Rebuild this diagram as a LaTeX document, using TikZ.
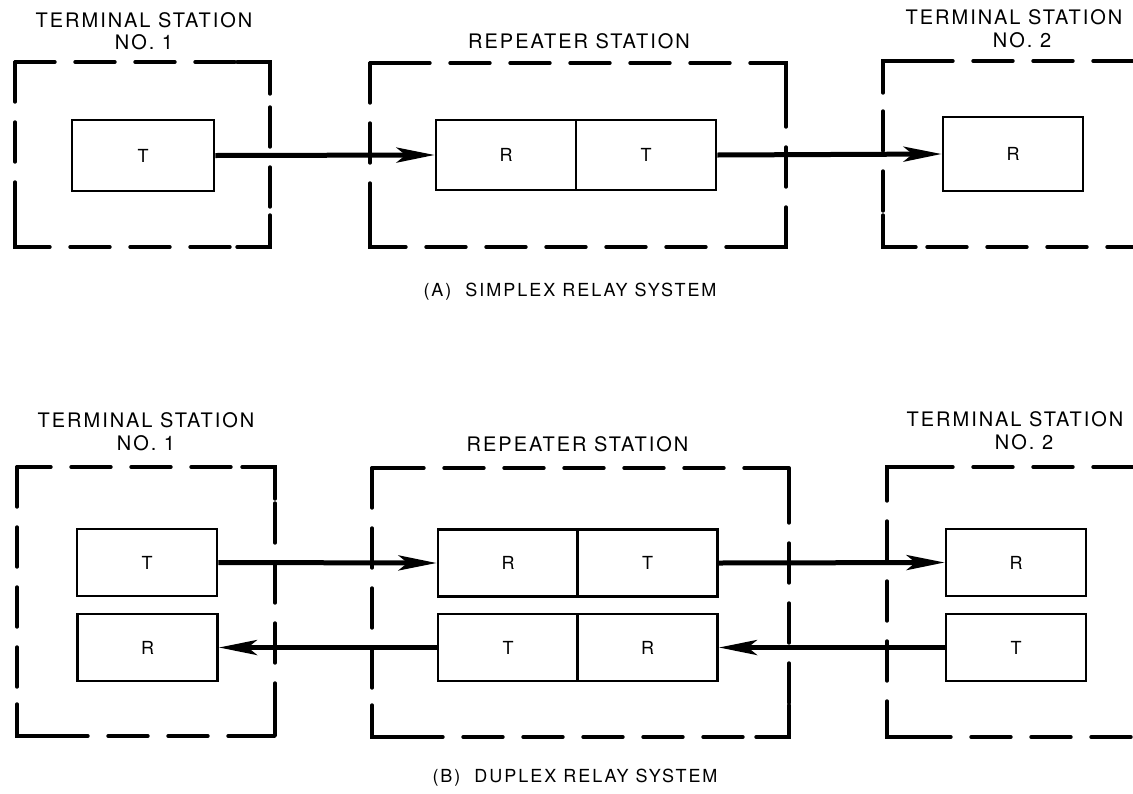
\documentclass[tikz,border=0pt]{standalone}
\usepackage{fontspec}
\setmainfont{TeX Gyre Heros}[LetterSpace=10]
\newfontfamily\capfont{TeX Gyre Heros}[LetterSpace=11]
\usetikzlibrary{arrows.meta}
\begin{document}
\begin{tikzpicture}[x=1pt,y=-1pt,
  stn/.style={line width=3.4pt, dash pattern=on 40pt off 20pt, line cap=round},
  crn/.style={line width=3.4pt, line cap=round, line join=round},
  blk/.style={draw, line width=2.8pt, minimum width=140pt, minimum height=70pt, inner sep=0pt, font=\fontsize{18}{18}\selectfont},
  blkb/.style={blk, minimum height=67pt},
  lbl/.style={font=\fontsize{20}{22.5}\selectfont, align=center, inner sep=0pt},
  captxt/.style={font=\capfont\fontsize{18}{18}\selectfont, inner sep=0pt},
  sig/.style={line width=5pt, -{Stealth[length=38pt,width=15pt,inset=9pt]}}]
\useasboundingbox (0,0) rectangle (1133,793);

% ---------- (A) simplex ----------
\draw[stn] (15,62) rectangle (270,247);
\draw[crn] (15,94) -- (15,62) -- (48,62) (237,62) -- (270,62) -- (270,94)
           (15,215) -- (15,247) -- (48,247) (237,247) -- (270,247) -- (270,215);
\draw[stn] (370,63) rectangle (786,247);
\draw[crn] (370,95) -- (370,63) -- (403,63) (753,63) -- (786,63) -- (786,95)
           (370,215) -- (370,247) -- (403,247) (753,247) -- (786,247) -- (786,215);
\draw[stn] (1133,61) -- (883,61) -- (883,247) -- (1133,247);
\draw[crn] (916,61) -- (883,61) -- (883,93) (883,215) -- (883,247) -- (916,247);

\node[lbl] (a1lbl) at (144,31) {TERMINAL STATION\\NO. 1};
\node[lbl] (arlbl) at (579,41.5) {REPEATER STATION};
\node[lbl] (a2lbl) at (1014,28.5) {TERMINAL STATION\\\hspace*{16pt}NO. 2};

\node[blk, minimum width=142pt, minimum height=71pt] (a1T) at (143,155.5) {T};
\node[blk] (aRR) at (506,155) {R};
\node[blk] (aRT) at (646,155) {T};
\node[blk, minimum height=74pt] (a2R) at (1013,154) {R};

\draw[sig] (a1T.east) -- (aRR.west);
\draw[sig] (aRT.east) -- (a2R.west);

\node[captxt] (acap) at (570,292) {(A)\ \ SIMPLEX RELAY SYSTEM};

% ---------- (B) duplex ----------
\draw[stn] (17,467) rectangle (275,736);
\draw[crn] (17,499) -- (17,467) -- (50,467) (242,467) -- (275,467) -- (275,499)
           (17,704) -- (17,736) -- (50,736) (242,736) -- (275,736) -- (275,704);
\draw[stn] (372,468) rectangle (789,737);
\draw[crn] (372,500) -- (372,468) -- (405,468) (756,468) -- (789,468) -- (789,500)
           (372,705) -- (372,737) -- (405,737) (756,737) -- (789,737) -- (789,705);
\draw[stn] (1133,467) -- (887,467) -- (887,737) -- (1133,737);
\draw[crn] (920,467) -- (887,467) -- (887,499) (887,705) -- (887,737) -- (920,737);

\node[lbl] (b1lbl) at (146,431.5) {TERMINAL STATION\\NO. 1};
\node[lbl] (brlbl) at (577.5,444) {REPEATER STATION};
\node[lbl] (b2lbl) at (1015,430.5) {TERMINAL STATION\\\hspace*{18pt}NO. 2};

\node[blkb] (b1T) at (147,562.5) {T};
\node[blkb] (b1R) at (147.5,647.5) {R};
\node[blkb] (bRR) at (508,563) {R};
\node[blkb] (bRT) at (647.5,563) {T};
\node[blkb] (bLT) at (508,647.5) {T};
\node[blkb] (bLR) at (647.5,647.5) {R};
\node[blkb] (b2R) at (1016,562.5) {R};
\node[blkb] (b2T) at (1016,647.5) {T};

\draw[sig] (b1T.east) -- (bRR.west);
\draw[sig] (bRT.east) -- (b2R.west);
\draw[sig] (b2T.west) -- (bLR.east);
\draw[sig] (bLT.west) -- (b1R.east);

\node[captxt] (bcap) at (575,778) {(B)\ \ DUPLEX RELAY SYSTEM};
\end{tikzpicture}
\end{document}
